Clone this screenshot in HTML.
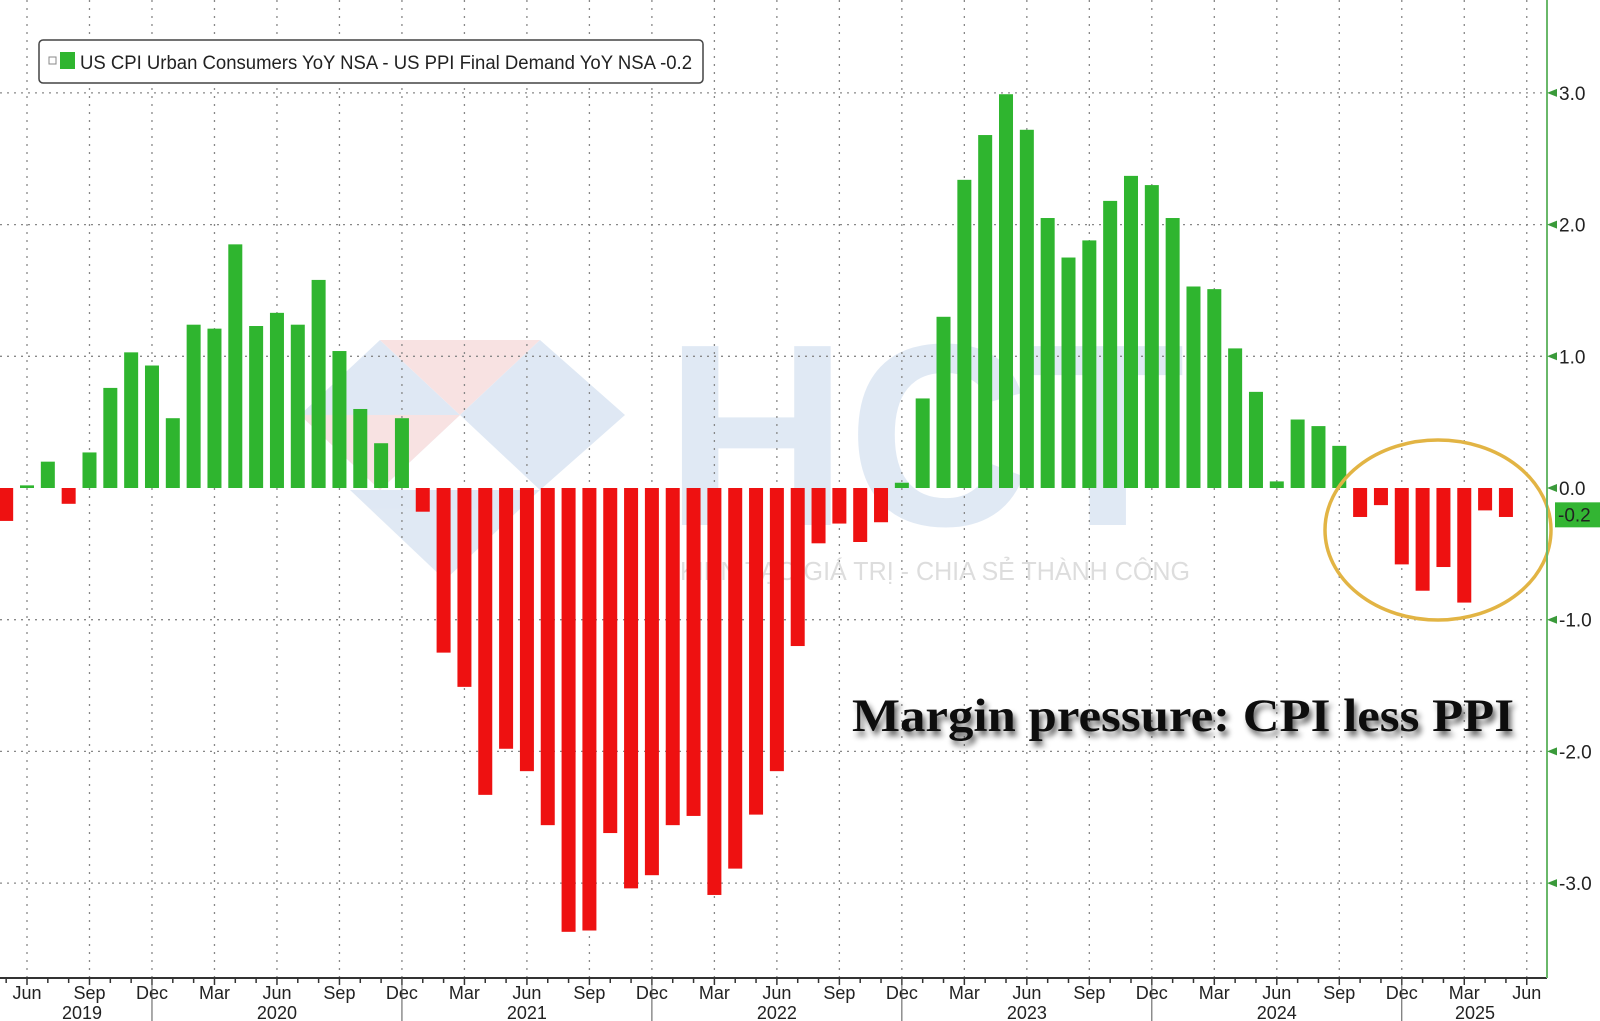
<!DOCTYPE html>
<html><head><meta charset="utf-8"><style>
html,body{margin:0;padding:0;background:#fff;}
svg{display:block;}
</style></head><body>
<svg id="c" width="1600" height="1021" xmlns="http://www.w3.org/2000/svg" font-family="Liberation Sans, DejaVu Sans, sans-serif"></svg>
<script>
const vals=[-0.25,0.02,0.2,-0.12,0.27,0.76,1.03,0.93,0.53,1.24,1.21,1.85,1.23,1.33,1.24,1.58,1.04,0.6,0.34,0.53,
-0.18,-1.25,-1.51,-2.33,-1.98,-2.15,-2.56,-3.37,-3.36,-2.62,-3.04,-2.94,-2.56,-2.49,-3.09,-2.89,-2.48,-2.15,-1.2,-0.42,-0.27,-0.41,-0.26,
0.04,0.68,1.3,2.34,2.68,2.99,2.72,2.05,1.75,1.88,2.18,2.37,2.3,2.05,1.53,1.51,1.06,0.73,0.05,0.52,0.47,0.32,
-0.22,-0.13,-0.58,-0.78,-0.6,-0.87,-0.17,-0.22];
const Z=488,U=131.7,X0=27,DX=20.83,AX=1547,AY=978;
const X=m=>X0+DX*m, Y=v=>Z-v*U;
let s='';
s+=`<g opacity="0.28">
<polygon points="300,415 380,340 460,415 380,490" fill="#8fb0d8"/>
<polygon points="380,340 540,340 460,415" fill="#e89a9a"/>
<polygon points="460,415 540,340 625,415 540,490" fill="#8fb0d8"/>
<polygon points="350,490 540,490 445,580" fill="#8fb0d8"/>
<polygon points="300,415 460,415 380,490" fill="#e89a9a"/>
</g>
<text x="665" y="525" font-size="260" font-weight="bold" fill="#a9c2e2" opacity="0.35" textLength="520" lengthAdjust="spacingAndGlyphs">HCT</text>
<text x="680" y="580" font-size="26" fill="#c8c8c8" opacity="0.6" textLength="510" lengthAdjust="spacingAndGlyphs">KIẾN TẠO GIÁ TRỊ - CHIA SẺ THÀNH CÔNG</text>`;
for(let v=-3;v<=3;v++){ if(v==0)continue; s+=`<line x1="0" x2="${AX}" y1="${Y(v)}" y2="${Y(v)}" stroke="#888" stroke-width="1.3" stroke-dasharray="2,5"/>`;}
for(let m=0;m<=72;m+=3){ s+=`<line x1="${X(m)}" x2="${X(m)}" y1="0" y2="${AY}" stroke="#888" stroke-width="1.3" stroke-dasharray="2,6"/>`;}
vals.forEach((v,i)=>{const x=X(i-1)-7;const y=v>=0?Y(v):Z;const h=Math.abs(v)*U;
 s+=`<rect x="${x}" y="${y}" width="14" height="${Math.max(h,1.5)}" fill="${v>=0?'#2fb52f':'#ee1111'}"/>`;});
s+=`<ellipse cx="1438" cy="530" rx="113" ry="90" fill="none" stroke="#e2b444" stroke-width="3.5"/>`;
s+=`<line x1="0" x2="${AX}" y1="${AY}" y2="${AY}" stroke="#333" stroke-width="2"/>`;
s+=`<line x1="${AX}" x2="${AX}" y1="0" y2="${AY}" stroke="#6ab86a" stroke-width="2"/>`;
for(let m=-1;m<=72;m++){const x=X(m);if(x<0)continue;s+=`<line x1="${x}" x2="${x}" y1="${AY}" y2="${AY+(m%3==0?7:5)}" stroke="#333" stroke-width="1.5"/>`;}
const mn=['Jun','Sep','Dec','Mar'];
for(let m=0;m<=72;m+=3){s+=`<text x="${X(m)}" y="999" font-size="18" text-anchor="middle" fill="#222">${mn[(m/3)%4]}</text>`;}
[[82,'2019'],[X(12),'2020'],[X(24),'2021'],[X(36),'2022'],[X(48),'2023'],[X(60),'2024'],[1475,'2025']].forEach(([x,t])=>{s+=`<text x="${x}" y="1019" font-size="18" text-anchor="middle" fill="#222">${t}</text>`;});
for(let m=6;m<=66;m+=12){s+=`<line x1="${X(m)}" x2="${X(m)}" y1="${AY}" y2="1021" stroke="#555" stroke-width="1"/>`;}
for(let v=-3;v<=3;v++){const y=Y(v);const t=(v<0?'-':'')+Math.abs(v).toFixed(1);
 s+=`<polygon points="${AX},${y} ${AX+10},${y-4} ${AX+10},${y+4}" fill="#3a9a3a"/>`;
 s+=`<text x="${AX+12}" y="${y+7}" font-size="19" fill="#222">${t}</text>`;}
s+=`<rect x="${AX+8}" y="${Y(-0.2)-12}" width="53" height="25" fill="#33b533"/>`;
s+=`<text x="${AX+11}" y="${Y(-0.2)+7}" font-size="19" fill="#222">-0.2</text>`;
s+=`<rect x="39" y="40" width="664" height="43" rx="4" fill="#fff" stroke="#444" stroke-width="1.5"/>`;
s+=`<rect x="49" y="57" width="7" height="7" fill="none" stroke="#888"/><rect x="60" y="52" width="15" height="17" fill="#2fb52f"/>`;
s+=`<text x="80" y="69" font-size="19" fill="#222" textLength="612" lengthAdjust="spacingAndGlyphs">US CPI Urban Consumers YoY NSA - US PPI Final Demand YoY NSA -0.2</text>`;
s+=`<defs><filter id="sh" x="-5%" y="-20%" width="110%" height="160%"><feGaussianBlur in="SourceAlpha" stdDeviation="3"/><feOffset dx="3" dy="5"/><feComponentTransfer><feFuncA type="linear" slope="0.6"/></feComponentTransfer><feMerge><feMergeNode/><feMergeNode in="SourceGraphic"/></feMerge></filter></defs>`;
s+=`<text x="852" y="731" font-family="Liberation Serif, serif" font-weight="bold" font-size="47" fill="#111" filter="url(#sh)" textLength="662" lengthAdjust="spacingAndGlyphs">Margin pressure: CPI less PPI</text>`;
document.getElementById('c').innerHTML=s;
</script>
</body></html>
